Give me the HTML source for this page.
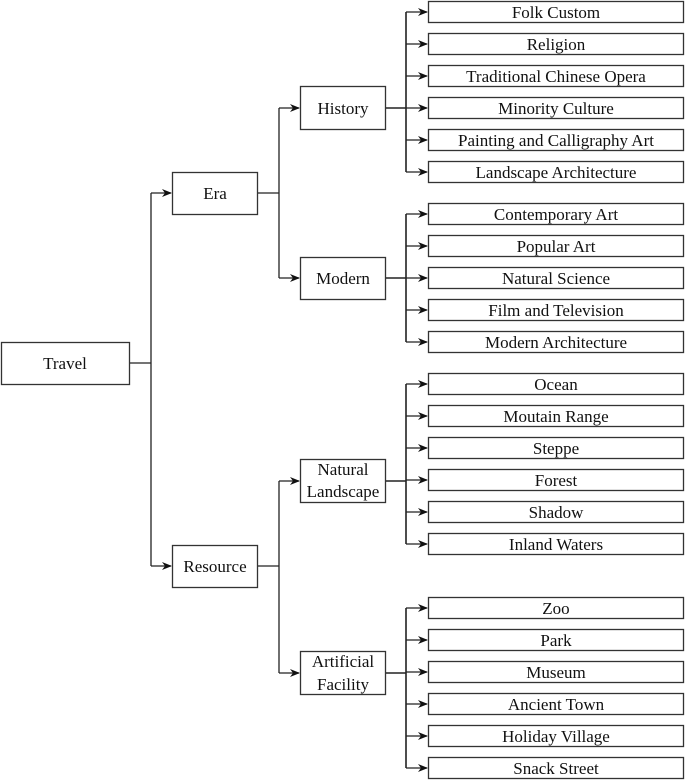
<!DOCTYPE html>
<html><head><meta charset="utf-8"><style>
html,body{margin:0;padding:0;background:#fff;}
svg{display:block;}
text{font-family:"Liberation Serif",serif;font-size:17px;fill:#111;}
</style></head><body>
<svg width="685" height="781" viewBox="0 0 685 781" xmlns="http://www.w3.org/2000/svg">
<defs><marker id="a" markerWidth="10" markerHeight="8" refX="9" refY="4" orient="auto" markerUnits="userSpaceOnUse"><path d="M0,0 L10,4 L0,8 L3,4 Z" fill="#111"/></marker></defs>
<g fill="#fff" stroke="#333" stroke-width="1.3">
<rect x="1.5" y="342.5" width="128" height="42"/>
<rect x="172.5" y="172.5" width="85" height="42"/>
<rect x="172.5" y="545.5" width="85" height="42"/>
<rect x="300.5" y="86.5" width="85" height="43"/>
<rect x="300.5" y="257.5" width="85" height="42"/>
<rect x="300.5" y="459.5" width="85" height="43"/>
<rect x="300.5" y="651.5" width="85" height="43"/>
</g>
<g fill="none" stroke="#222" stroke-width="1.3">
<path d="M130,363 H151 M151,193 V566"/>
<path d="M151,193 H171" marker-end="url(#a)"/><path d="M151,566 H171" marker-end="url(#a)"/>
<path d="M258,193 H279 M279,108 V278"/>
<path d="M279,108 H299" marker-end="url(#a)"/><path d="M279,278 H299" marker-end="url(#a)"/>
<path d="M258,566 H279 M279,481 V673"/>
<path d="M279,481 H299" marker-end="url(#a)"/><path d="M279,673 H299" marker-end="url(#a)"/>
<path d="M386,108 H406 M406,12 V172 M386,278 H406 M406,214 V342 M386,481 H406 M406,384 V544 M386,673 H406 M406,608 V768" stroke-width="1.6"/>
<path d="M406,12 H427" marker-end="url(#a)"/><path d="M406,44 H427" marker-end="url(#a)"/><path d="M406,76 H427" marker-end="url(#a)"/><path d="M406,108 H427" marker-end="url(#a)"/><path d="M406,140 H427" marker-end="url(#a)"/><path d="M406,172 H427" marker-end="url(#a)"/>
<path d="M406,214 H427" marker-end="url(#a)"/><path d="M406,246 H427" marker-end="url(#a)"/><path d="M406,278 H427" marker-end="url(#a)"/><path d="M406,310 H427" marker-end="url(#a)"/><path d="M406,342 H427" marker-end="url(#a)"/>
<path d="M406,384 H427" marker-end="url(#a)"/><path d="M406,416 H427" marker-end="url(#a)"/><path d="M406,448 H427" marker-end="url(#a)"/><path d="M406,480 H427" marker-end="url(#a)"/><path d="M406,512 H427" marker-end="url(#a)"/><path d="M406,544 H427" marker-end="url(#a)"/>
<path d="M406,608 H427" marker-end="url(#a)"/><path d="M406,640 H427" marker-end="url(#a)"/><path d="M406,672 H427" marker-end="url(#a)"/><path d="M406,704 H427" marker-end="url(#a)"/><path d="M406,736 H427" marker-end="url(#a)"/><path d="M406,768 H427" marker-end="url(#a)"/>
</g>
<g fill="#fff" stroke="#333" stroke-width="1.3">
<rect x="428.5" y="1.5" width="255" height="21"/><rect x="428.5" y="33.5" width="255" height="21"/><rect x="428.5" y="65.5" width="255" height="21"/><rect x="428.5" y="97.5" width="255" height="21"/><rect x="428.5" y="129.5" width="255" height="21"/><rect x="428.5" y="161.5" width="255" height="21"/>
<rect x="428.5" y="203.5" width="255" height="21"/><rect x="428.5" y="235.5" width="255" height="21"/><rect x="428.5" y="267.5" width="255" height="21"/><rect x="428.5" y="299.5" width="255" height="21"/><rect x="428.5" y="331.5" width="255" height="21"/>
<rect x="428.5" y="373.5" width="255" height="21"/><rect x="428.5" y="405.5" width="255" height="21"/><rect x="428.5" y="437.5" width="255" height="21"/><rect x="428.5" y="469.5" width="255" height="21"/><rect x="428.5" y="501.5" width="255" height="21"/><rect x="428.5" y="533.5" width="255" height="21"/>
<rect x="428.5" y="597.5" width="255" height="21"/><rect x="428.5" y="629.5" width="255" height="21"/><rect x="428.5" y="661.5" width="255" height="21"/><rect x="428.5" y="693.5" width="255" height="21"/><rect x="428.5" y="725.5" width="255" height="21"/><rect x="428.5" y="757.5" width="255" height="21"/>
</g>
<g text-anchor="middle">
<text x="65" y="369">Travel</text>
<text x="215" y="199">Era</text>
<text x="215" y="572">Resource</text>
<text x="343" y="114">History</text>
<text x="343" y="284">Modern</text>
<text x="343" y="475">Natural</text>
<text x="343" y="497">Landscape</text>
<text x="343" y="667">Artificial</text>
<text x="343" y="690">Facility</text>
<text x="556" y="18">Folk Custom</text>
<text x="556" y="50">Religion</text>
<text x="556" y="82">Traditional Chinese Opera</text>
<text x="556" y="114">Minority Culture</text>
<text x="556" y="146">Painting and Calligraphy Art</text>
<text x="556" y="178">Landscape Architecture</text>
<text x="556" y="220">Contemporary Art</text>
<text x="556" y="252">Popular Art</text>
<text x="556" y="284">Natural Science</text>
<text x="556" y="316">Film and Television</text>
<text x="556" y="348">Modern Architecture</text>
<text x="556" y="390">Ocean</text>
<text x="556" y="422">Moutain Range</text>
<text x="556" y="454">Steppe</text>
<text x="556" y="486">Forest</text>
<text x="556" y="518">Shadow</text>
<text x="556" y="550">Inland Waters</text>
<text x="556" y="614">Zoo</text>
<text x="556" y="646">Park</text>
<text x="556" y="678">Museum</text>
<text x="556" y="710">Ancient Town</text>
<text x="556" y="742">Holiday Village</text>
<text x="556" y="774">Snack Street</text>
</g>
</svg>
</body></html>
